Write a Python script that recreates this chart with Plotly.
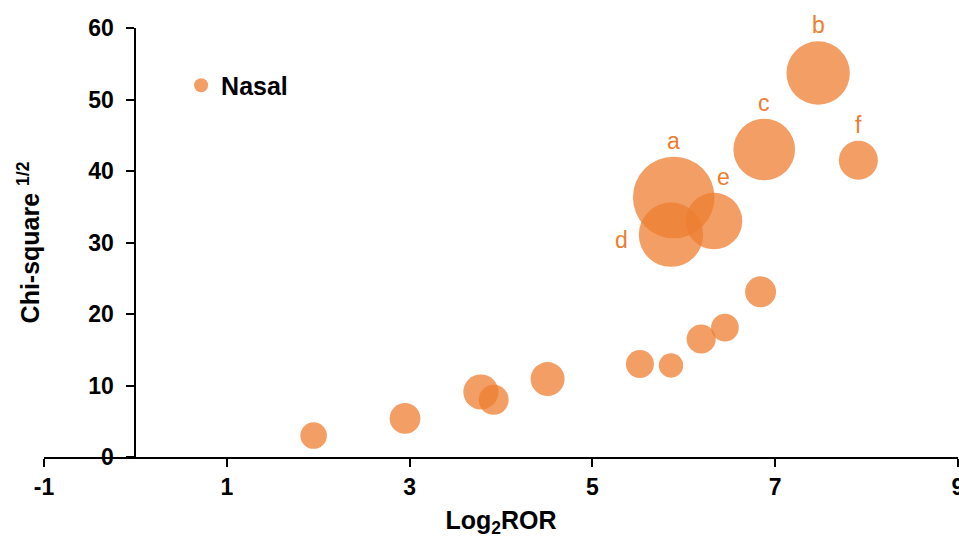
import math
import plotly.graph_objects as go

# Data
log2_ror = [1.95, 2.95, 3.78, 3.92, 4.51, 5.52, 5.86, 6.19, 6.45, 6.84,
            5.89, 7.47, 6.88, 5.86, 6.33, 7.91]
chi_sqrt = [3.0, 5.4, 9.1, 8.0, 10.9, 13.0, 12.8, 16.5, 18.1, 23.1,
            36.3, 53.7, 43.0, 31.1, 33.0, 41.5]
bubble_size = [44, 59, 77, 56, 72, 49, 37, 53, 48, 60,
               416, 251, 237, 259, 200, 95]
point_label = ["", "", "", "", "", "", "", "", "", "",
               "a", "b", "c", "d", "e", "f"]

x_ticks = [-1, 1, 3, 5, 7, 9]
x_tick_text = ["-1", "1", "3", "5", "7", "9"]
y_ticks = [0, 10, 20, 30, 40, 50, 60]
y_tick_text = ["0", "10", "20", "30", "40", "50", "60"]

ORANGE = "#ED7D31"
FONT = "Liberation Sans, Arial, sans-serif"
max_diam = 81.6
sizeref = 2.0 * max(bubble_size) / (max_diam ** 2)

fig = go.Figure()
fig.add_trace(go.Scatter(
    x=log2_ror, y=chi_sqrt, mode="markers",
    marker=dict(size=bubble_size, sizemode="area", sizeref=sizeref,
                color=ORANGE, opacity=0.75, line=dict(width=0)),
    showlegend=False, cliponaxis=False, hoverinfo="x+y",
))
fig.add_trace(go.Scatter(
    x=[None], y=[None], mode="markers", name="Nasal",
    marker=dict(size=14, color=ORANGE, opacity=0.75),
    showlegend=True,
))

# letter labels placed just outside each labelled bubble
for xv, yv, sv, lab in zip(log2_ror, chi_sqrt, bubble_size, point_label):
    if not lab:
        continue
    r = math.sqrt(sv / 2.0 / sizeref)
    if lab == "d":
        fig.add_annotation(x=xv, y=yv, text=lab, showarrow=False,
                           xanchor="right", yanchor="middle",
                           xshift=-(r + 9), yshift=-5,
                           font=dict(family=FONT, size=23, color=ORANGE))
    else:
        fig.add_annotation(x=xv, y=yv, text=lab, showarrow=False,
                           xanchor="center", yanchor="bottom",
                           xshift=10 if lab == "e" else 0, yshift=r + 1,
                           font=dict(family=FONT, size=23, color=ORANGE))

fig.update_layout(
    width=959, height=540,
    margin=dict(l=44, r=1, t=28, b=83, autoexpand=False),
    paper_bgcolor="white", plot_bgcolor="white",
    font=dict(family=FONT, color="black"),
    showlegend=True,
    legend=dict(x=0.150, y=0.866, xanchor="left", yanchor="middle",
                bgcolor="rgba(0,0,0,0)", borderwidth=0,
                font=dict(family=FONT, size=25, color="black", weight="bold")),
    xaxis=dict(
        range=[-1, 9], tickmode="array", tickvals=x_ticks, ticktext=x_tick_text,
        automargin=False, ticklabeloverflow="allow",
        showline=True, linecolor="black", linewidth=2,
        ticks="outside", ticklen=8, tickwidth=2, tickcolor="black",
        showgrid=False, zeroline=False,
        tickfont=dict(family=FONT, size=23, color="black", weight="bold"),
        title=dict(text="Log<sub>2</sub>ROR", standoff=13,
                   font=dict(family=FONT, size=25, color="black", weight="bold")),
    ),
    yaxis=dict(
        range=[0, 60], tickmode="array", tickvals=y_ticks, ticktext=y_tick_text,
        anchor="free", position=0.1, automargin=False, ticklabelstandoff=8,
        showline=True, linecolor="black", linewidth=2,
        ticks="outside", ticklen=8, tickwidth=2, tickcolor="black",
        showgrid=False, zeroline=False,
        tickfont=dict(family=FONT, size=23, color="black", weight="bold"),
        title=dict(text="Chi-square <sup>1/2</sup>", standoff=40,
                   font=dict(family=FONT, size=25, color="black", weight="bold")),
    ),
)

fig.write_html("out.html", config={"displayModeBar": False},
               post_script="document.body.style.margin='0';"
                           "document.body.style.overflow='hidden';")
